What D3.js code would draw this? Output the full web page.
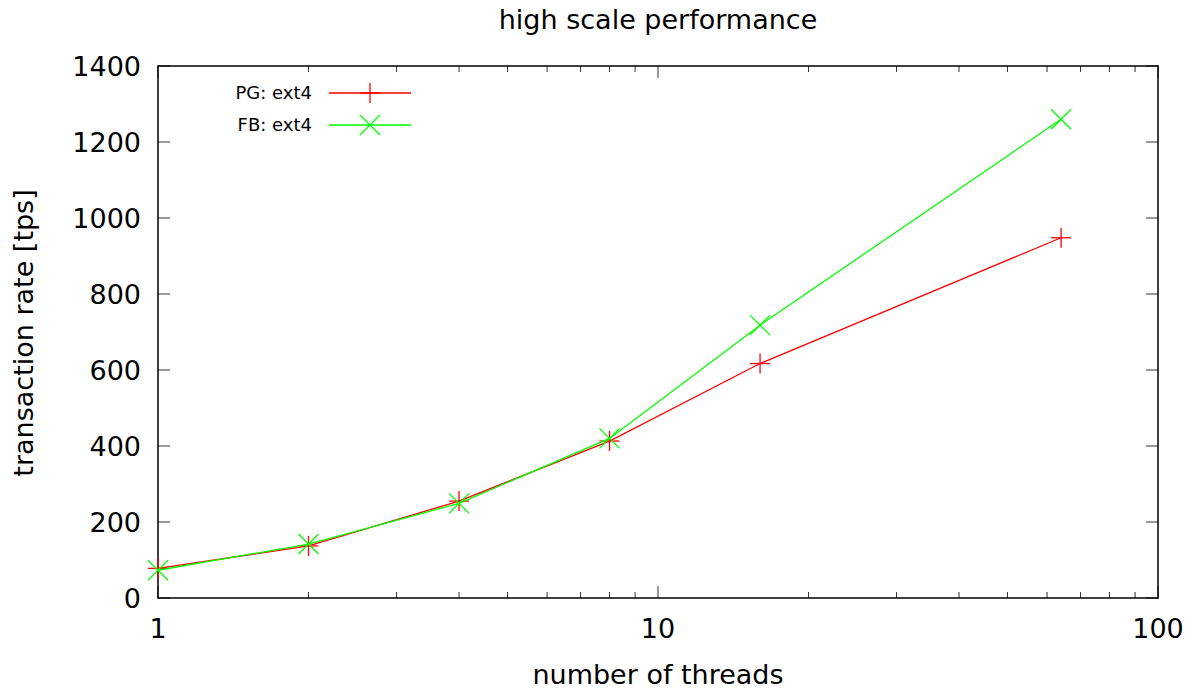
<!DOCTYPE html>
<html><head><meta charset="utf-8">
<script src="https://cdn.jsdelivr.net/npm/d3@7"></script>
<style>body{margin:0;background:#fff}svg{display:block}text{font-family:"DejaVu Sans",sans-serif;fill:#000}</style>
</head><body><svg id="c" width="1195" height="689"></svg>
<script>
const threads = [1, 2, 4, 8, 16, 64];
const pgValues = [78, 137, 255, 413, 617, 948];
const fbValues = [73, 142, 249, 420, 718, 1260];
const yTicks = [0, 200, 400, 600, 800, 1000, 1200, 1400];
const xMajor = [1, 10, 100];
const xMinor = [2,3,4,5,6,7,8,9,20,30,40,50,60,70,80,90];

const L = 158, R = 1158, T = 66, B = 598;
const svg = d3.select("#c");
const x = d3.scaleLog().domain([1, 100]).range([L, R]);
const y = d3.scaleLinear().domain([0, 1400]).range([B, T]);
const axisColor = "#333";

// ticks
const g = svg.append("g").attr("stroke", axisColor).attr("stroke-width", 1);
yTicks.forEach(v => {
  g.append("line").attr("x1", L).attr("x2", L + 12).attr("y1", y(v)).attr("y2", y(v));
  g.append("line").attr("x1", R).attr("x2", R - 12).attr("y1", y(v)).attr("y2", y(v));
});
xMajor.forEach(v => {
  g.append("line").attr("x1", x(v)).attr("x2", x(v)).attr("y1", B).attr("y2", B - 12);
  g.append("line").attr("x1", x(v)).attr("x2", x(v)).attr("y1", T).attr("y2", T + 12);
});
xMinor.forEach(v => {
  g.append("line").attr("x1", x(v)).attr("x2", x(v)).attr("y1", B).attr("y2", B - 6);
  g.append("line").attr("x1", x(v)).attr("x2", x(v)).attr("y1", T).attr("y2", T + 6);
});
svg.append("rect").attr("x", L).attr("y", T).attr("width", R - L).attr("height", B - T)
  .attr("fill", "none").attr("stroke", "#000").attr("stroke-width", 1.5);

// tick labels
svg.append("g").selectAll("text").data(yTicks).join("text")
  .attr("x", L - 17).attr("y", d => y(d)).attr("dy", "0.36em").attr("text-anchor", "end")
  .attr("font-size", 27).text(d => d);
svg.append("g").selectAll("text").data(xMajor).join("text")
  .attr("x", d => x(d)).attr("y", 638).attr("text-anchor", "middle")
  .attr("font-size", 27).text(d => d);

// titles
svg.append("text").attr("x", 658).attr("y", 29).attr("text-anchor", "middle").attr("font-size", 27).text("high scale performance");
svg.append("text").attr("x", 658).attr("y", 684).attr("text-anchor", "middle").attr("font-size", 27).text("number of threads");
svg.append("text").attr("transform", "translate(33,333) rotate(-90)").attr("text-anchor", "middle").attr("font-size", 27).text("transaction rate [tps]");

// series
const series = [
  {name: "PG: ext4", vals: pgValues, color: "#ff0000", marker: "plus"},
  {name: "FB: ext4", vals: fbValues, color: "#00ff00", marker: "cross"}
];
const line = d3.line().x(d => x(d[0])).y(d => y(d[1]));
function marker(sel, type, cx, cy, color) {
  const s = 10;
  if (type === "plus") {
    sel.append("line").attr("x1", cx - s).attr("x2", cx + s).attr("y1", cy).attr("y2", cy).attr("stroke", color);
    sel.append("line").attr("x1", cx).attr("x2", cx).attr("y1", cy - s).attr("y2", cy + s).attr("stroke", color);
  } else {
    sel.append("line").attr("x1", cx - s).attr("x2", cx + s).attr("y1", cy - s).attr("y2", cy + s).attr("stroke", color);
    sel.append("line").attr("x1", cx - s).attr("x2", cx + s).attr("y1", cy + s).attr("y2", cy - s).attr("stroke", color);
  }
}
series.forEach((s, i) => {
  const pts = threads.map((t, j) => [t, s.vals[j]]);
  svg.append("path").attr("d", line(pts)).attr("fill", "none").attr("stroke", s.color).attr("stroke-width", 1.3);
  const mg = svg.append("g").attr("stroke-width", 1.3);
  pts.forEach(p => marker(mg, s.marker, x(p[0]), y(p[1]), s.color));
  // legend
  const ly = 93 + i * 32;
  svg.append("text").attr("x", 312).attr("y", ly).attr("dy", "0.36em").attr("text-anchor", "end").attr("font-size", 18).text(s.name);
  svg.append("line").attr("x1", 329).attr("x2", 411).attr("y1", ly).attr("y2", ly).attr("stroke", s.color).attr("stroke-width", 1.3);
  marker(mg, s.marker, 370, ly, s.color);
});
</script></body></html>
